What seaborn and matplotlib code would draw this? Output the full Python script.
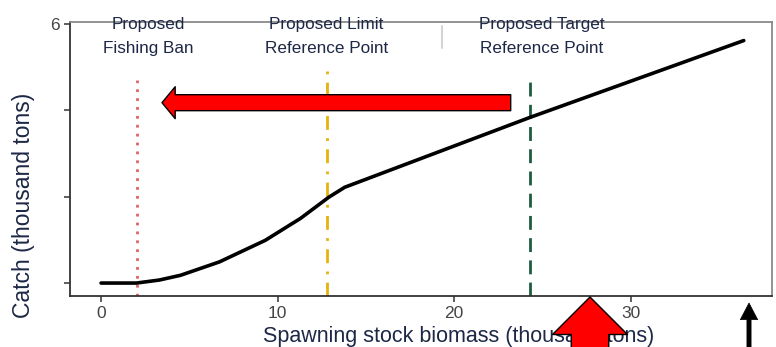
import numpy as np
import pandas as pd
import matplotlib
matplotlib.use("Agg")
import matplotlib.pyplot as plt
import seaborn as sns

# Harvest control rule: catch as a function of spawning stock biomass
ssb = [0.0, 2.0, 3.3, 4.5, 6.7, 9.3, 11.3, 12.9, 13.8, 24.3, 36.4]
catch = [0.0, 0.0, 0.07, 0.18, 0.49, 0.99, 1.50, 1.99, 2.22, 3.84, 5.62]

# Reference points (thousand tons of spawning stock biomass)
ref_names = ["Proposed\nFishing Ban", "Proposed Limit\nReference Point",
             "Proposed Target\nReference Point"]
ref_x = [2.05, 12.8, 24.3]
ref_label_x = [2.7, 12.75, 24.95]
ref_colors = ["#e06464", "#e6b20c", "#1e5c40"]
ref_styles = [(0, (1, 2.2)), (0, (5, 3, 1, 3)), (0, (5, 3))]
ref_line_top = [0.79, 0.82, 0.79]

x_ticks = [0, 10, 20, 30]
y_ticks = [0, 2, 4, 6]
y_tick_labels = ["", "", "", "6"]

df = pd.DataFrame({"ssb": ssb, "catch": catch})

sns.set_theme(style="ticks")
plt.rcParams["font.family"] = ["Liberation Sans", "DejaVu Sans"]

fig = plt.figure(figsize=(7.76, 3.47), dpi=100)
ax = fig.add_axes([70 / 776, 51 / 347, 702 / 776, 274 / 347])

text_col = "#1d2746"

for x, c, ls, top in zip(ref_x, ref_colors, ref_styles, ref_line_top):
    ax.axvline(x, ymin=0, ymax=top, color=c, linestyle=ls, linewidth=2.0, zorder=1)

sns.lineplot(data=df, x="ssb", y="catch", color="black", linewidth=2.6,
             ax=ax, zorder=3)

for name, lx in zip(ref_names, ref_label_x):
    top, bottom = name.split("\n")
    ax.text(lx, 5.99, top, ha="center", va="center", fontsize=12.3, color=text_col)
    ax.text(lx, 5.43, bottom, ha="center", va="center", fontsize=12.3, color=text_col)

# faint separator mark between the limit and target labels
ax.plot([19.3, 19.3], [5.45, 5.95], color="#d4d4d4", linewidth=1.5, zorder=0)

ax.set_xlim(-1.76, 38.0)
ax.set_ylim(-0.3, 6.05)
ax.set_xticks(x_ticks)
ax.set_xticklabels([str(t) for t in x_ticks])
ax.set_yticks(y_ticks)
ax.set_yticklabels(y_tick_labels)
ax.tick_params(axis="both", length=4, width=1.2, color="#444444",
               labelsize=12.5, labelcolor="#444444", pad=3.5)

for side in ["left", "bottom"]:
    ax.spines[side].set_color("#333333")
    ax.spines[side].set_linewidth(1.3)
for side in ["top", "right"]:
    ax.spines[side].set_visible(True)
    ax.spines[side].set_color("#8a8a8a")
    ax.spines[side].set_linewidth(1.3)

ax.set_xlabel("Spawning stock biomass (thousand tons)", fontsize=15.5, color=text_col)
ax.xaxis.set_label_coords((459 - 70) / 702, -0.108)
ax.set_ylabel("Catch (thousand tons)", fontsize=16.5, color=text_col)
ax.yaxis.set_label_coords(-0.05, (296 - 205) / 274)

# arrow pointing towards the fishing ban
ax.annotate("", xy=(3.45, 4.18), xytext=(23.2, 4.18),
            arrowprops=dict(arrowstyle="simple,head_length=9.5,head_width=23,tail_width=11.5",
                            mutation_scale=1, fc="#ff0000", ec="black", lw=1.0,
                            shrinkA=0, shrinkB=0), zorder=4)

# large arrow pointing up at the axis
ax.annotate("", xy=(590 / 776, 1 - 297 / 347), xytext=(590 / 776, -0.2),
            xycoords="figure fraction", textcoords="figure fraction",
            annotation_clip=False,
            arrowprops=dict(arrowstyle="simple,head_length=27,head_width=54,tail_width=27",
                            mutation_scale=1, fc="#ff0000", ec="black", lw=1.0,
                            shrinkA=0, shrinkB=0), zorder=6)

# small black arrow at the right end
ax.annotate("", xy=(749 / 776, 1 - 303 / 347), xytext=(749 / 776, -0.2),
            xycoords="figure fraction", textcoords="figure fraction",
            annotation_clip=False,
            arrowprops=dict(arrowstyle="simple,head_length=12,head_width=12.5,tail_width=3",
                            mutation_scale=1, fc="black", ec="black", lw=0.5,
                            shrinkA=0, shrinkB=0), zorder=6)

fig.savefig("out.png", dpi=100)
